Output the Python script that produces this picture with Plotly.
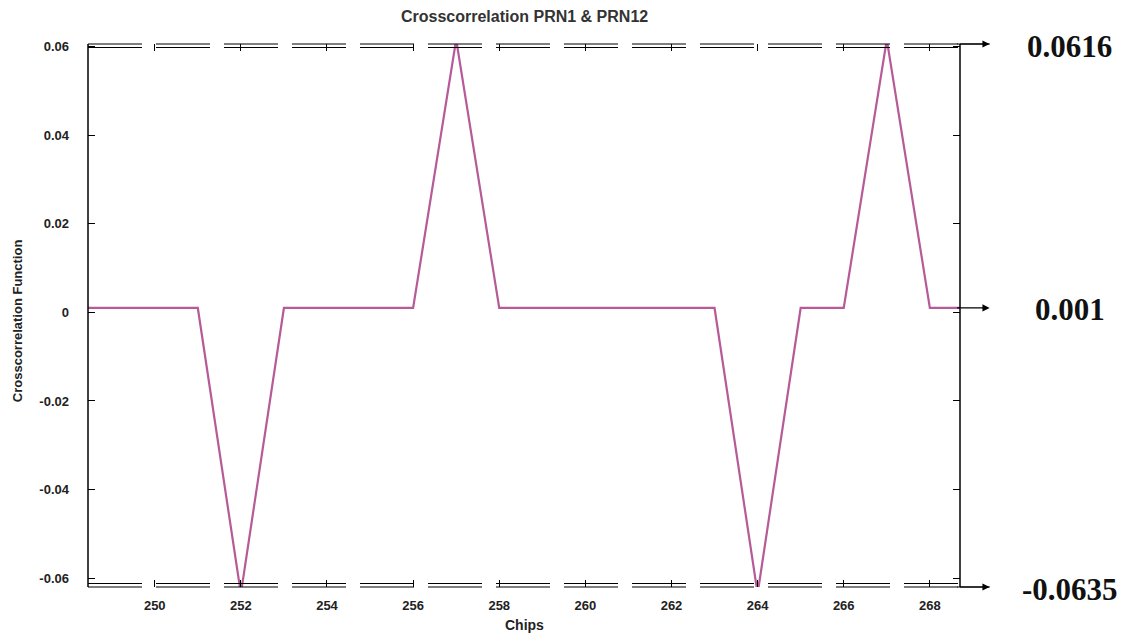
import plotly.graph_objects as go

# Crosscorrelation samples (chip index vs. correlation value)
chips = [248, 249, 250, 251, 252, 253, 254, 255, 256, 257, 258, 259, 260,
         261, 262, 263, 264, 265, 266, 267, 268, 269]
corr = [0.001, 0.001, 0.001, 0.001, -0.0635, 0.001, 0.001, 0.001, 0.001, 0.0616,
        0.001, 0.001, 0.001, 0.001, 0.001, 0.001, -0.0635, 0.001, 0.001, 0.0616,
        0.001, 0.001]

x_ticks = [250, 252, 254, 256, 258, 260, 262, 264, 266, 268]
y_ticks = [-0.06, -0.04, -0.02, 0, 0.02, 0.04, 0.06]
y_tick_text = ["-0.06", "-0.04", "-0.02", "0", "0.02", "0.04", "0.06"]

# Marked levels shown on the right side
level_max = 0.0616
level_mid = 0.001
level_min = -0.0635

SANS = "Liberation Sans, Arial, sans-serif"
SERIF = "Liberation Serif, Times New Roman, serif"

fig = go.Figure()
fig.add_trace(go.Scatter(
    x=chips, y=corr, mode="lines",
    line=dict(color="#b65a98", width=2.2),
    showlegend=False, hoverinfo="skip",
))

tick_font = dict(family=SANS, size=13, color="#222", weight="bold")

fig.update_layout(
    width=1133, height=636,
    margin=dict(l=88, r=173, t=44, b=49),
    paper_bgcolor="white", plot_bgcolor="white",
    title=dict(text="Crosscorrelation PRN1 &amp; PRN12", x=0.463,
               xanchor="center", y=0.975, yanchor="middle",
               font=dict(family=SANS, size=16, color="#333", weight="bold")),
    xaxis=dict(range=[248.45, 268.7], tickvals=x_ticks, ticks="inside", ticklen=7,
               tickcolor="black", mirror="ticks", showgrid=False, zeroline=False,
               showline=False, tickfont=tick_font, ticklabelstandoff=9),
    yaxis=dict(range=[-0.0620, 0.0606], tickvals=y_ticks, ticktext=y_tick_text,
               ticks="inside", ticklen=7, tickcolor="black", mirror="ticks",
               showgrid=False, zeroline=False, showline=False, tickfont=tick_font,
               ticklabelstandoff=18),
)

# Axis titles
fig.add_annotation(x=0.501, y=-0.070, xref="paper", yref="paper", text="Chips",
                   showarrow=False, xanchor="center", yanchor="middle",
                   font=dict(family=SANS, size=14, color="#222", weight="bold"))
fig.add_annotation(x=-0.080, y=0.49, xref="paper", yref="paper",
                   text="Crosscorrelation Function", textangle=-90,
                   showarrow=False, xanchor="center", yanchor="middle",
                   font=dict(family=SANS, size=13, color="#222", weight="bold"))

# Solid left/right frame lines
for xp in (0, 1):
    fig.add_shape(type="line", xref="paper", yref="paper", x0=xp, x1=xp, y0=0, y1=1,
                  line=dict(color="black", width=1.5))

# Dashed double lines along top and bottom edges extending to the arrows
arrow_end = 1.034
gap = 3.5 / 543
for yp in (1, 0):
    for off in (0.0, gap):
        yy = yp - off if yp == 1 else yp + off
        fig.add_shape(type="line", xref="paper", yref="paper", x0=0, x1=1, y0=yy, y1=yy,
                      line=dict(color="black", width=1.1, dash="54px,14px"))
    fig.add_shape(type="line", xref="paper", yref="paper", x0=1, x1=arrow_end,
                  y0=yp, y1=yp, line=dict(color="black", width=1.2))

# Arrows toward the level labels
label_x = 1.126
for yp, yref, yv, txt in [(1, "paper", None, level_max),
                          (None, "y", level_mid, level_mid),
                          (0, "paper", None, level_min)]:
    yval = yp if yref == "paper" else yv
    fig.add_annotation(x=arrow_end, y=yval, xref="paper", yref=yref, text="",
                       showarrow=True, ax=-34, ay=0, arrowhead=2, arrowsize=1.2,
                       arrowwidth=1.2, arrowcolor="black")
    fig.add_annotation(x=label_x, y=yval, xref="paper", yref=yref, yshift=-2,
                       text=f"<b>{txt}</b>", showarrow=False, xanchor="center",
                       yanchor="middle",
                       font=dict(family=SERIF, size=31, color="#111"))

fig.write_html("out.html")
